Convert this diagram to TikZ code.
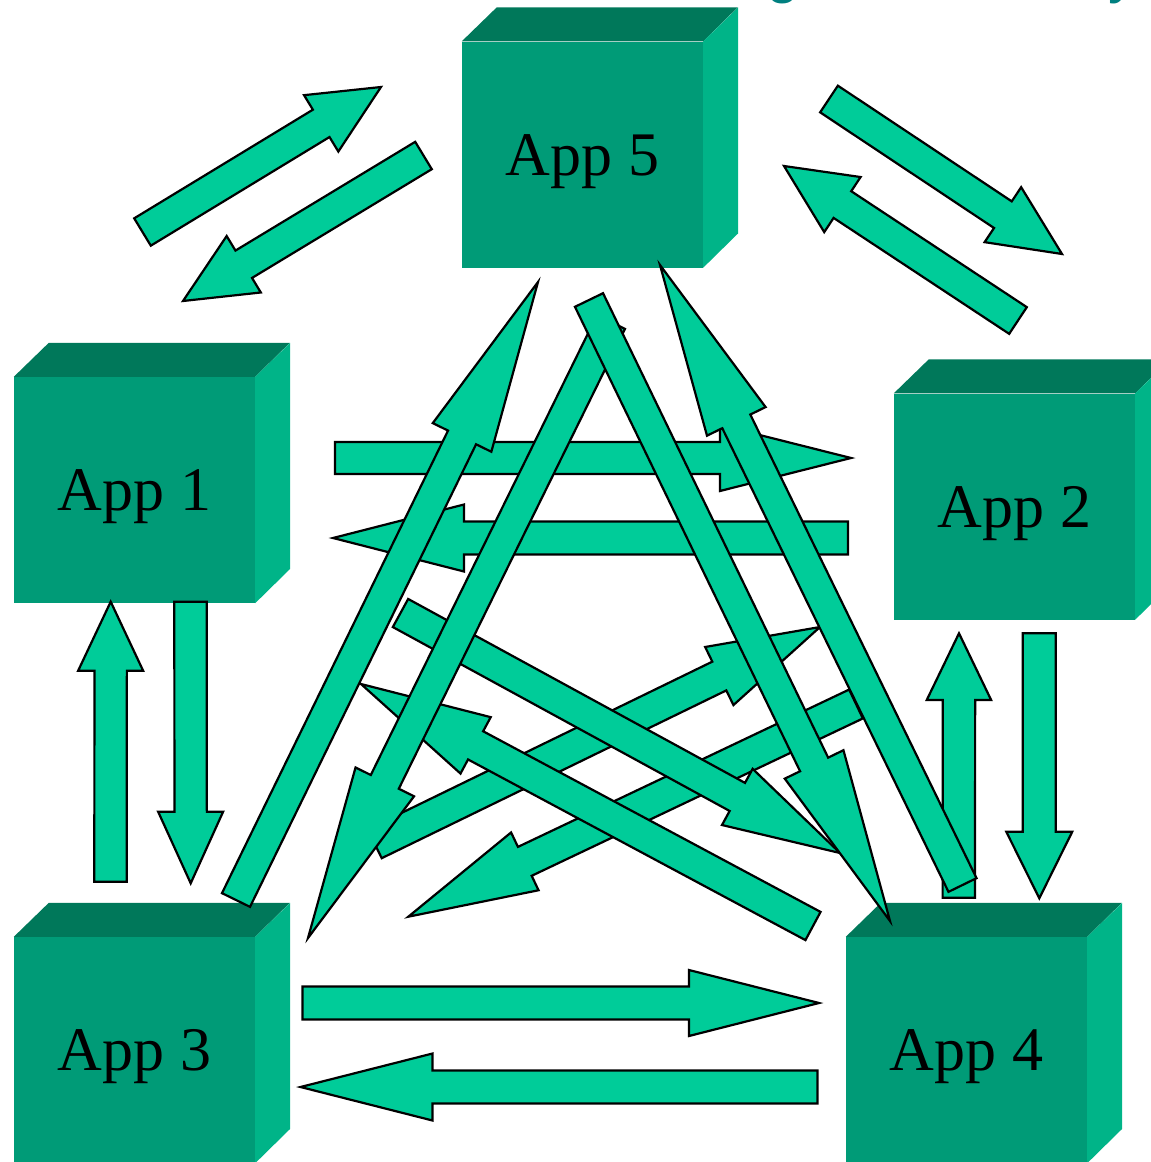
\documentclass[tikz,border=0pt]{standalone}
\usepackage{fontspec}
\setmainfont{Liberation Serif}
\newfontfamily\titlefont{Liberation Sans}
\usetikzlibrary{calc}

\definecolor{arrowfill}{RGB}{0,204,153}
\definecolor{cubefront}{RGB}{0,155,119}
\definecolor{cubetop}{RGB}{0,120,90}
\definecolor{cubeside}{RGB}{0,180,136}
\definecolor{titleteal}{RGB}{0,128,128}

\tikzset{
  flowarrow/.style={draw=black, fill=arrowfill, line width=2.2pt, line join=miter},
  appcube/.style={fill=cubefront, minimum width=241pt, minimum height=226pt,
    inner sep=0pt, text height=41pt, text depth=0pt,
    font=\fontsize{62}{70}\selectfont},
  titlechar/.style={anchor=base, inner sep=0pt, text=titleteal,
    font=\titlefont\fontsize{60}{70}\selectfont},
}

% cube: front face as a node, then the top and right faces
\newcommand\appcubenode[3]{% name, centre of front face, label
  \node[appcube] (#1) at #2 {#3};
  \fill[cubetop] (#1.north west) -- ++(35,-34) -- ++(241,0) -- (#1.north east) -- cycle;
  \fill[cubeside] (#1.north east) -- ++(35,-34) -- ++(0,226) -- (#1.south east) -- cycle;
}

% block arrow from tail to tip
\newcommand\blockarrow[6]{% name, tail, tip, shaft half-width, head half-width, head length
  \coordinate (#1-tail) at #2;
  \coordinate (#1-tip) at #3;
  \coordinate (#1-neck) at ($(#1-tip)!#6pt!(#1-tail)$);
  \draw[flowarrow]
    ($(#1-tail)!#4pt!90:(#1-tip)$) --
    ($(#1-neck)!#4pt!90:(#1-tip)$) --
    ($(#1-neck)!#5pt!90:(#1-tip)$) --
    (#1-tip) --
    ($(#1-neck)!#5pt!-90:(#1-tip)$) --
    ($(#1-neck)!#4pt!-90:(#1-tip)$) --
    ($(#1-tail)!#4pt!-90:(#1-tip)$) -- cycle;
}

\begin{document}
\begin{tikzpicture}[x=1pt, y=-1pt]
\useasboundingbox (0,0) rectangle (1151,1162);

% heading letters running off the top edge
\node[titlechar] (headg) at (783,-9) {g};
\node[titlechar] (heady) at (1123,-9) {y};

% applications
\appcubenode{app5}{(582.5,154.5)}{App 5}
\appcubenode{app1}{(134.5,490)}{App 1}
\appcubenode{app2}{(1014.5,506.5)}{App 2}
\appcubenode{app3}{(134.5,1050)}{App 3}
\appcubenode{app4}{(966.5,1050)}{App 4}

% App 1 <-> App 5
\blockarrow{a15}{(142.5,232)}{(381,87)}{16}{33}{70}
\blockarrow{a51}{(423.5,155.5)}{(183,301)}{16}{33}{71}
% App 5 <-> App 2
\blockarrow{a52}{(829,99)}{(1062,254)}{16}{33}{71}
\blockarrow{a25}{(1018,320.5)}{(784,166)}{16}{33}{70}
% App 1 <-> App 3
\blockarrow{a31}{(110.5,881.7)}{(110.7,601.7)}{16.2}{32.5}{69}
\blockarrow{a13}{(190.5,601.7)}{(190.7,883.3)}{16.2}{32.5}{71.6}
% App 2 <-> App 4
\blockarrow{a42}{(958.8,897.7)}{(959,633.3)}{16.2}{32.2}{66.7}
\blockarrow{a24}{(1039.2,633.3)}{(1039.3,898.3)}{16.5}{33}{66.6}
% App 3 <-> App 4
\blockarrow{a34}{(302.5,1003)}{(819,1003)}{16.5}{33}{130}
\blockarrow{a43}{(817.5,1087)}{(300.5,1087)}{16.5}{33.5}{132}
% App 1 <-> App 2
\blockarrow{a12}{(335,458)}{(851,458)}{16}{33}{131}
\blockarrow{a21}{(848,538)}{(333,538)}{16.5}{33.5}{131}

% cross links in the middle
\blockarrow{a32}{(374.7,843.8)}{(820,627)}{16}{32.3}{112}
\blockarrow{a23}{(856,704)}{(408.3,916.7)}{16}{32}{129}
\blockarrow{a41}{(813,926)}{(361,684)}{16}{32}{130}
\blockarrow{a14}{(400.5,613)}{(840,853)}{16}{32}{117}

% long links to App 5
\blockarrow{a35}{(236,900)}{(538,282)}{15.6}{32.6}{173}
\blockarrow{a53}{(611,322)}{(308,938)}{15.6}{32.6}{174}
\blockarrow{a45}{(962.5,885)}{(660,265)}{15.6}{32.6}{174}
\blockarrow{a54}{(589,300)}{(890,921)}{15.6}{32.6}{174}
\end{tikzpicture}
\end{document}
